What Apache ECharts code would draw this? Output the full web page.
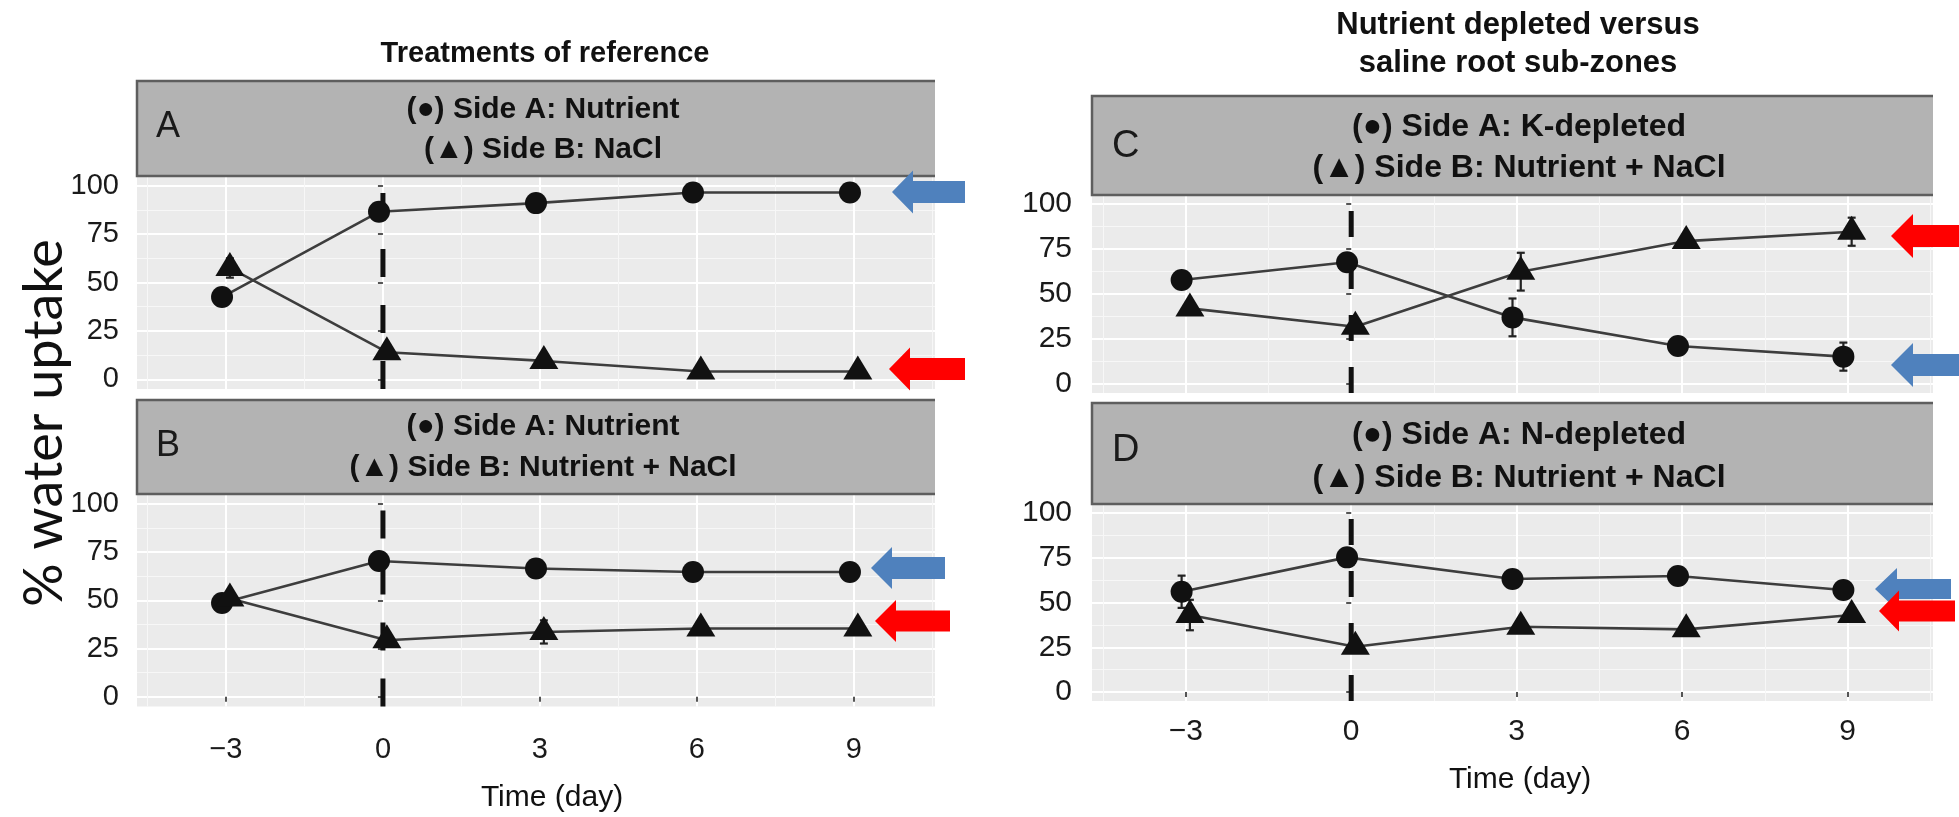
<!DOCTYPE html>
<html><head><meta charset="utf-8">
<script src="https://cdn.jsdelivr.net/npm/echarts@6/dist/echarts.min.js"></script>
<style>html,body{margin:0;padding:0;background:#fff}#c{width:1959px;height:817px}</style>
</head><body><div id="c"></div>
<script>
// ---------------- data ----------------
const days = [-3, 0, 3, 6, 9];
const xTickValues = [-3, 0, 3, 6, 9];
const xMinorValues = [-4.5, -1.5, 1.5, 4.5, 7.5, 10.5];
const yTickValues = [0, 25, 50, 75, 100];
const yMinorValues = [12.5, 37.5, 62.5, 87.5];
const treatmentDay = 0;

// Panel A: Side A Nutrient (circle) / Side B NaCl (triangle)
const A_sideA = [42.5, 86.5, 91, 96.5, 96.5];
const A_sideA_se = [0, 0, 0, 0, 0];
const A_sideB = [57.5, 14, 9.5, 4, 4];
const A_sideB_se = [5, 0, 0, 0, 0];
// Panel B: Side A Nutrient / Side B Nutrient + NaCl
const B_sideA = [48.6, 70.3, 66.4, 64.6, 64.6];
const B_sideA_se = [0, 0, 0, 0, 0];
const B_sideB = [50.9, 29.3, 33.6, 35.4, 35.4];
const B_sideB_se = [0, 0, 6, 0, 0];
// Panel C: Side A K-depleted / Side B Nutrient + NaCl
const C_sideA = [57.8, 67.6, 37, 21.1, 15.2];
const C_sideA_se = [0, 0, 10.5, 0, 7.8];
const C_sideB = [42, 31.8, 62.4, 79.4, 84.6];
const C_sideB_se = [0, 0, 10.5, 0, 7.8];
// Panel D: Side A N-depleted / Side B Nutrient + NaCl
const D_sideA = [56, 75.2, 63.1, 64.8, 57];
const D_sideA_se = [9, 0, 0, 0, 0];
const D_sideB = [43, 25.3, 36.5, 35, 43];
const D_sideB_se = [8.5, 0, 0, 0, 0];

const panelLetters = ['A', 'B', 'C', 'D'];
const stripLine1 = ['(\u25CF) Side A: Nutrient', '(\u25CF) Side A: Nutrient', '(\u25CF) Side A: K-depleted', '(\u25CF) Side A: N-depleted'];
const stripLine2 = ['(\u25B2) Side B: NaCl', '(\u25B2) Side B: Nutrient + NaCl', '(\u25B2) Side B: Nutrient + NaCl', '(\u25B2) Side B: Nutrient + NaCl'];
const titleLeft = 'Treatments of reference';
const titleRight = ['Nutrient depleted versus', 'saline root sub-zones'];
const xAxisTitle = 'Time (day)';
const yAxisTitle = '% water uptake';

// ---------------- layout ----------------
const X_MIN = -4.7, X_MAX = 10.55, Y_MIN = -5, Y_MAX = 105;
const DODGE = 0.15;
const FONT = '"Liberation Sans", Arial, Helvetica, sans-serif';
const panels = [
  {sA: A_sideA, sAe: A_sideA_se, sB: A_sideB, sBe: A_sideB_se,
   grid: {left: 137, top: 176, width: 798, height: 213}, strip: [137, 81, 798, 95],
   letter: [156, 127, 36], lines: [543, 110, 150, 30], showX: false, xMargin: 29, fs: 29, yMargin: 18, dash: 28},
  {sA: B_sideA, sAe: B_sideA_se, sB: B_sideB, sBe: B_sideB_se,
   grid: {left: 137, top: 494, width: 798, height: 212.5}, strip: [137, 400, 798, 94],
   letter: [156, 446, 36], lines: [543, 427, 468, 30], showX: true, xMargin: 29, fs: 29, yMargin: 18, dash: 28},
  {sA: C_sideA, sAe: C_sideA_se, sB: C_sideB, sBe: C_sideB_se,
   grid: {left: 1092, top: 195, width: 841, height: 198}, strip: [1092, 96, 841, 99],
   letter: [1112, 147, 38], lines: [1519, 127, 168, 32], showX: false, xMargin: 16, fs: 30, yMargin: 20, dash: 26},
  {sA: D_sideA, sAe: D_sideA_se, sB: D_sideB, sBe: D_sideB_se,
   grid: {left: 1092, top: 504, width: 841, height: 197}, strip: [1092, 403, 841, 101],
   letter: [1112, 451, 38], lines: [1519, 435, 478, 32], showX: true, xMargin: 16, fs: 30, yMargin: 20, dash: 26}
];

const grids = [], xAxes = [], yAxes = [], series = [], graphics = [];
const minus = v => (v < 0 ? '\u2212' + Math.abs(v) : String(v));

panels.forEach((p, i) => {
  grids.push(Object.assign({show: true, backgroundColor: '#ebebeb', borderWidth: 0}, p.grid));
  xAxes.push({type: 'value', gridIndex: i, min: X_MIN, max: X_MAX, position: 'bottom',
    axisLine: {show: false},
    axisTick: {show: p.showX, customValues: xTickValues, length: 5, lineStyle: {color: '#555', width: 2}},
    axisLabel: {show: p.showX, customValues: xTickValues, margin: p.xMargin, fontSize: p.fs, color: '#1a1a1a', fontFamily: FONT, formatter: minus},
    splitLine: {show: true, lineStyle: {color: '#ffffff', width: 2}}});
  xAxes.push({type: 'value', gridIndex: i, min: X_MIN, max: X_MAX, position: 'top',
    axisLine: {show: false}, axisLabel: {show: false},
    axisTick: {show: false, customValues: xMinorValues},
    splitLine: {show: true, lineStyle: {color: '#f7f7f7', width: 1}}});
  yAxes.push({type: 'value', gridIndex: i, min: Y_MIN, max: Y_MAX, position: 'left',
    axisLine: {show: false},
    axisTick: {show: true, customValues: yTickValues, length: 5, lineStyle: {color: '#555', width: 2}},
    axisLabel: {customValues: yTickValues, margin: p.yMargin, fontSize: p.fs, color: '#1a1a1a', fontFamily: FONT},
    splitLine: {show: true, lineStyle: {color: '#ffffff', width: 2}}});
  yAxes.push({type: 'value', gridIndex: i, min: Y_MIN, max: Y_MAX, position: 'right',
    axisLine: {show: false}, axisLabel: {show: false},
    axisTick: {show: false, customValues: yMinorValues},
    splitLine: {show: true, lineStyle: {color: '#f7f7f7', width: 1}}});

  const xi = 2 * i, yi = 2 * i;
  const ptsA = days.map((d, k) => [d - DODGE / 2, p.sA[k]]);
  const ptsB = days.map((d, k) => [d + DODGE / 2, p.sB[k]]);
  series.push({type: 'line', xAxisIndex: xi, yAxisIndex: yi, silent: true, z: 2,
    data: [[treatmentDay, Y_MIN], [treatmentDay, Y_MAX]], showSymbol: false, symbol: 'none',
    lineStyle: {color: '#111', width: 5, type: [p.dash, p.dash]}});
  [ptsA, ptsB].forEach(pts => series.push({type: 'line', xAxisIndex: xi, yAxisIndex: yi, z: 3, silent: true,
    data: pts, showSymbol: false, symbol: 'none', lineStyle: {color: '#3d3d3d', width: 2.6}}));
  const eb = [];
  days.forEach((d, k) => {
    if (p.sAe[k] > 0) eb.push([d - DODGE / 2, p.sA[k] - p.sAe[k], p.sA[k] + p.sAe[k]]);
    if (p.sBe[k] > 0) eb.push([d + DODGE / 2, p.sB[k] - p.sBe[k], p.sB[k] + p.sBe[k]]);
  });
  series.push({type: 'custom', xAxisIndex: xi, yAxisIndex: yi, z: 4, silent: true, data: eb,
    renderItem: (params, api) => {
      const lo = api.coord([api.value(0), api.value(1)]);
      const hi = api.coord([api.value(0), api.value(2)]);
      const w = 4;
      const st = {stroke: '#222', lineWidth: 2.2};
      return {type: 'group', children: [
        {type: 'line', shape: {x1: lo[0], y1: lo[1], x2: hi[0], y2: hi[1]}, style: st},
        {type: 'line', shape: {x1: lo[0] - w, y1: lo[1], x2: lo[0] + w, y2: lo[1]}, style: st},
        {type: 'line', shape: {x1: hi[0] - w, y1: hi[1], x2: hi[0] + w, y2: hi[1]}, style: st}
      ]};
    }});
  series.push({type: 'scatter', xAxisIndex: xi, yAxisIndex: yi, z: 5, silent: true, data: ptsA,
    symbol: 'circle', symbolSize: 22, itemStyle: {color: '#111', opacity: 1}});
  series.push({type: 'scatter', xAxisIndex: xi, yAxisIndex: yi, z: 5, silent: true, data: ptsB,
    symbol: 'triangle', symbolSize: [29, 24], symbolOffset: [0, -4], itemStyle: {color: '#111', opacity: 1}});

  const [sx, sy, sw, sh] = p.strip;
  graphics.push({type: 'rect', shape: {x: sx, y: sy, width: sw, height: sh}, style: {fill: '#b3b3b3'}, z: 10});
  graphics.push({type: 'polyline', shape: {points: [[sx + sw, sy], [sx, sy], [sx, sy + sh], [sx + sw, sy + sh]]},
    style: {stroke: '#5e5e5e', lineWidth: 2.5, fill: null}, z: 11});
  graphics.push({type: 'text', x: p.letter[0], y: p.letter[1], z: 12,
    style: {text: panelLetters[i], font: `${p.letter[2]}px ${FONT}`, fill: '#1a1a1a', align: 'left', verticalAlign: 'middle', textAlign: 'left', textVerticalAlign: 'middle'}});
  graphics.push({type: 'text', x: p.lines[0], y: p.lines[1], z: 12,
    style: {text: stripLine1[i], font: `bold ${p.lines[3]}px ${FONT}`, fill: '#111', align: 'center', verticalAlign: 'middle', textAlign: 'center', textVerticalAlign: 'middle'}});
  graphics.push({type: 'text', x: p.lines[0], y: p.lines[2], z: 12,
    style: {text: stripLine2[i], font: `bold ${p.lines[3]}px ${FONT}`, fill: '#111', align: 'center', verticalAlign: 'middle', textAlign: 'center', textVerticalAlign: 'middle'}});
});

function txt(t, x, y, font, rot) {
  return {type: 'text', x: x, y: y, rotation: rot || 0, z: 12,
    style: {text: t, font: font, fill: '#111', align: 'center', verticalAlign: 'middle', textAlign: 'center', textVerticalAlign: 'middle'}};
}
graphics.push(txt(titleLeft, 545, 54, `bold 29px ${FONT}`));
graphics.push(txt(titleRight[0], 1518, 25, `bold 31px ${FONT}`));
graphics.push(txt(titleRight[1], 1518, 63, `bold 31px ${FONT}`));
graphics.push(txt(xAxisTitle, 552, 798, `30px ${FONT}`));
graphics.push(txt(xAxisTitle, 1520, 780, `30px ${FONT}`));
graphics.push(txt(yAxisTitle, 45, 423, `54px Lato, "Open Sans", sans-serif`, Math.PI / 2));

function arrow(tx, cy, hx, hh, bh, rx, color) {
  return {type: 'polygon', z: 13, shape: {points: [[tx, cy], [hx, cy - hh], [hx, cy - bh], [rx, cy - bh], [rx, cy + bh], [hx, cy + bh], [hx, cy + hh]]},
    style: {fill: color}};
}
const BLUE = '#4f81bd', RED = '#ff0000';
graphics.push(arrow(892, 192, 913, 21.5, 11, 965, BLUE));
graphics.push(arrow(889, 369, 910, 21.5, 11, 965, RED));
graphics.push(arrow(871, 568, 892, 21, 11, 945, BLUE));
graphics.push(arrow(875, 621, 896, 21, 10.5, 950, RED));
graphics.push(arrow(1891, 236, 1913, 22, 11, 1959, RED));
graphics.push(arrow(1891, 365, 1913, 22, 11, 1959, BLUE));
graphics.push(arrow(1875, 589, 1897, 21, 10, 1951, BLUE));
graphics.push(arrow(1879, 611, 1899, 20.5, 10.5, 1955, RED));

const chart = echarts.init(document.getElementById('c'), null, {renderer: 'canvas'});
chart.setOption({
  animation: false,
  backgroundColor: '#ffffff',
  grid: grids, xAxis: xAxes, yAxis: yAxes, series: series, graphic: graphics
});
</script></body></html>
